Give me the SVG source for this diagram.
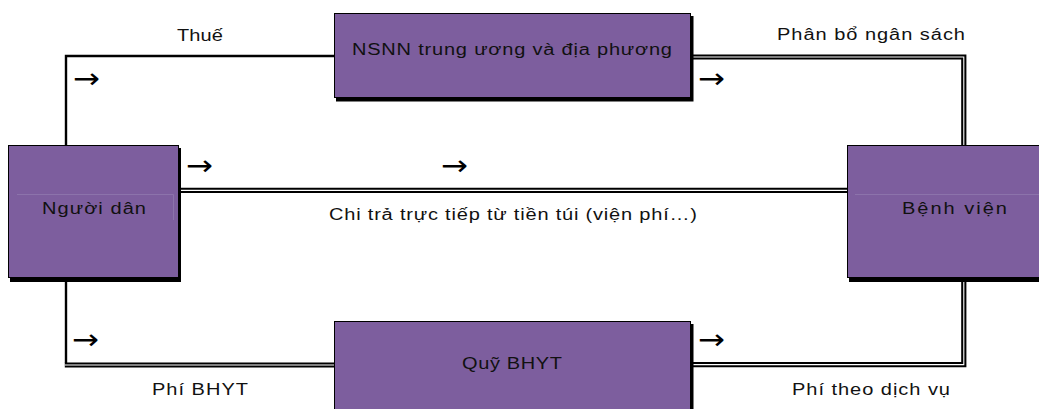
<svg xmlns="http://www.w3.org/2000/svg" width="1039" height="409" viewBox="0 0 1039 409">
  <style>
    .box { fill: #7D5E9E; stroke: #000; stroke-width: 1; }
    .shadow { fill: #000; }
    .seam { fill: none; stroke: #8C73AB; stroke-width: 1; }
    .lbl { font-family: "Liberation Sans", Arial, sans-serif; font-size: 16px; fill: #111; }
    .arr { font-family: "Noto Sans", "DejaVu Sans", sans-serif; font-size: 28px; fill: #000; }
    .single { fill: none; stroke: #000; stroke-width: 2.4; }
    .dblOuter { fill: none; stroke: #000; stroke-width: 5.2; }
    .dblInner { fill: none; stroke: #fff; stroke-width: 1.1; }
  </style>

  <rect width="1039" height="409" fill="#fff"/>

  <!-- flows between the parties -->
  <g id="connectors">
    <!-- taxes: people -> state budget -->
    <path class="single" d="M66,145 V56 H334"/>
    <!-- budget allocation: state budget -> hospital -->
    <path class="dblOuter" d="M692,57 H963.8 V145"/>
    <path class="dblInner" d="M692,57 H963.8 V145"/>
    <!-- out-of-pocket payment: people -> hospital -->
    <path class="dblOuter" d="M180,190.4 H847"/>
    <path class="dblInner" d="M180,190.4 H847"/>
    <!-- insurance premium: people -> health insurance fund -->
    <path class="single" d="M66,281 V363"/>
    <path class="dblOuter" d="M64.8,365 H334"/>
    <path class="dblInner" d="M64.8,365 H334"/>
    <!-- fee-for-service: fund -> hospital -->
    <path class="dblOuter" d="M692,364.6 H963.8 V281"/>
    <path class="dblInner" d="M692,364.6 H963.8 V281"/>

    <!-- direction marks, widened -->
    <text class="arr" transform="translate(73,88) scale(1.15,1)">→</text>
    <text class="arr" transform="translate(698,88) scale(1.15,1)">→</text>
    <text class="arr" transform="translate(186,174.5) scale(1.15,1)">→</text>
    <text class="arr" transform="translate(441,174.5) scale(1.15,1)">→</text>
    <text class="arr" transform="translate(72,348.5) scale(1.15,1)">→</text>
    <text class="arr" transform="translate(698,348.5) scale(1.15,1)">→</text>

    <!-- labels are set in a horizontally widened face -->
    <text class="lbl" transform="translate(177,40.5) scale(1.25,1)" textLength="36.8" lengthAdjust="spacing">Thuế</text>
    <text class="lbl" transform="translate(777,40) scale(1.25,1)" textLength="150.4" lengthAdjust="spacing">Phân bổ ngân sách</text>
    <text class="lbl" transform="translate(329,220) scale(1.25,1)" textLength="294.4" lengthAdjust="spacing">Chi trả trực tiếp từ tiền túi (viện phí…)</text>
    <text class="lbl" transform="translate(152,395) scale(1.25,1)" textLength="76.8" lengthAdjust="spacing">Phí BHYT</text>
    <text class="lbl" transform="translate(792,395) scale(1.25,1)" textLength="126.4" lengthAdjust="spacing">Phí theo dịch vụ</text>
  </g>

  <g id="nguoi-dan">
    <rect class="shadow" x="10" y="148" width="171" height="134"/>
    <rect class="box" x="8.5" y="145.5" width="170" height="132"/>
    <path class="seam" d="M17,194.5 H173.5 V220"/>
    <text class="lbl" transform="translate(42,214) scale(1.25,1)" textLength="83.2" lengthAdjust="spacing">Người dân</text>
  </g>

  <g id="nsnn">
    <rect class="shadow" x="336" y="16" width="357.5" height="85.5"/>
    <rect class="box" x="334.5" y="13.5" width="356" height="84"/>
    <text class="lbl" transform="translate(352,55) scale(1.25,1)" textLength="256" lengthAdjust="spacing">NSNN trung ương và địa phương</text>
  </g>

  <g id="benh-vien">
    <rect class="shadow" x="849" y="148" width="200" height="134"/>
    <rect class="box" x="847.5" y="145.5" width="200" height="132"/>
    <path class="seam" d="M855,194.5 H1039"/>
    <text class="lbl" transform="translate(902,214) scale(1.25,1)" textLength="84" lengthAdjust="spacing">Bệnh viện</text>
  </g>

  <g id="quy-bhyt">
    <rect class="shadow" x="336" y="324" width="357.5" height="100"/>
    <rect class="box" x="334.5" y="321.5" width="356" height="100"/>
    <text class="lbl" transform="translate(462,369) scale(1.25,1)" textLength="80" lengthAdjust="spacing">Quỹ BHYT</text>
  </g>
</svg>
